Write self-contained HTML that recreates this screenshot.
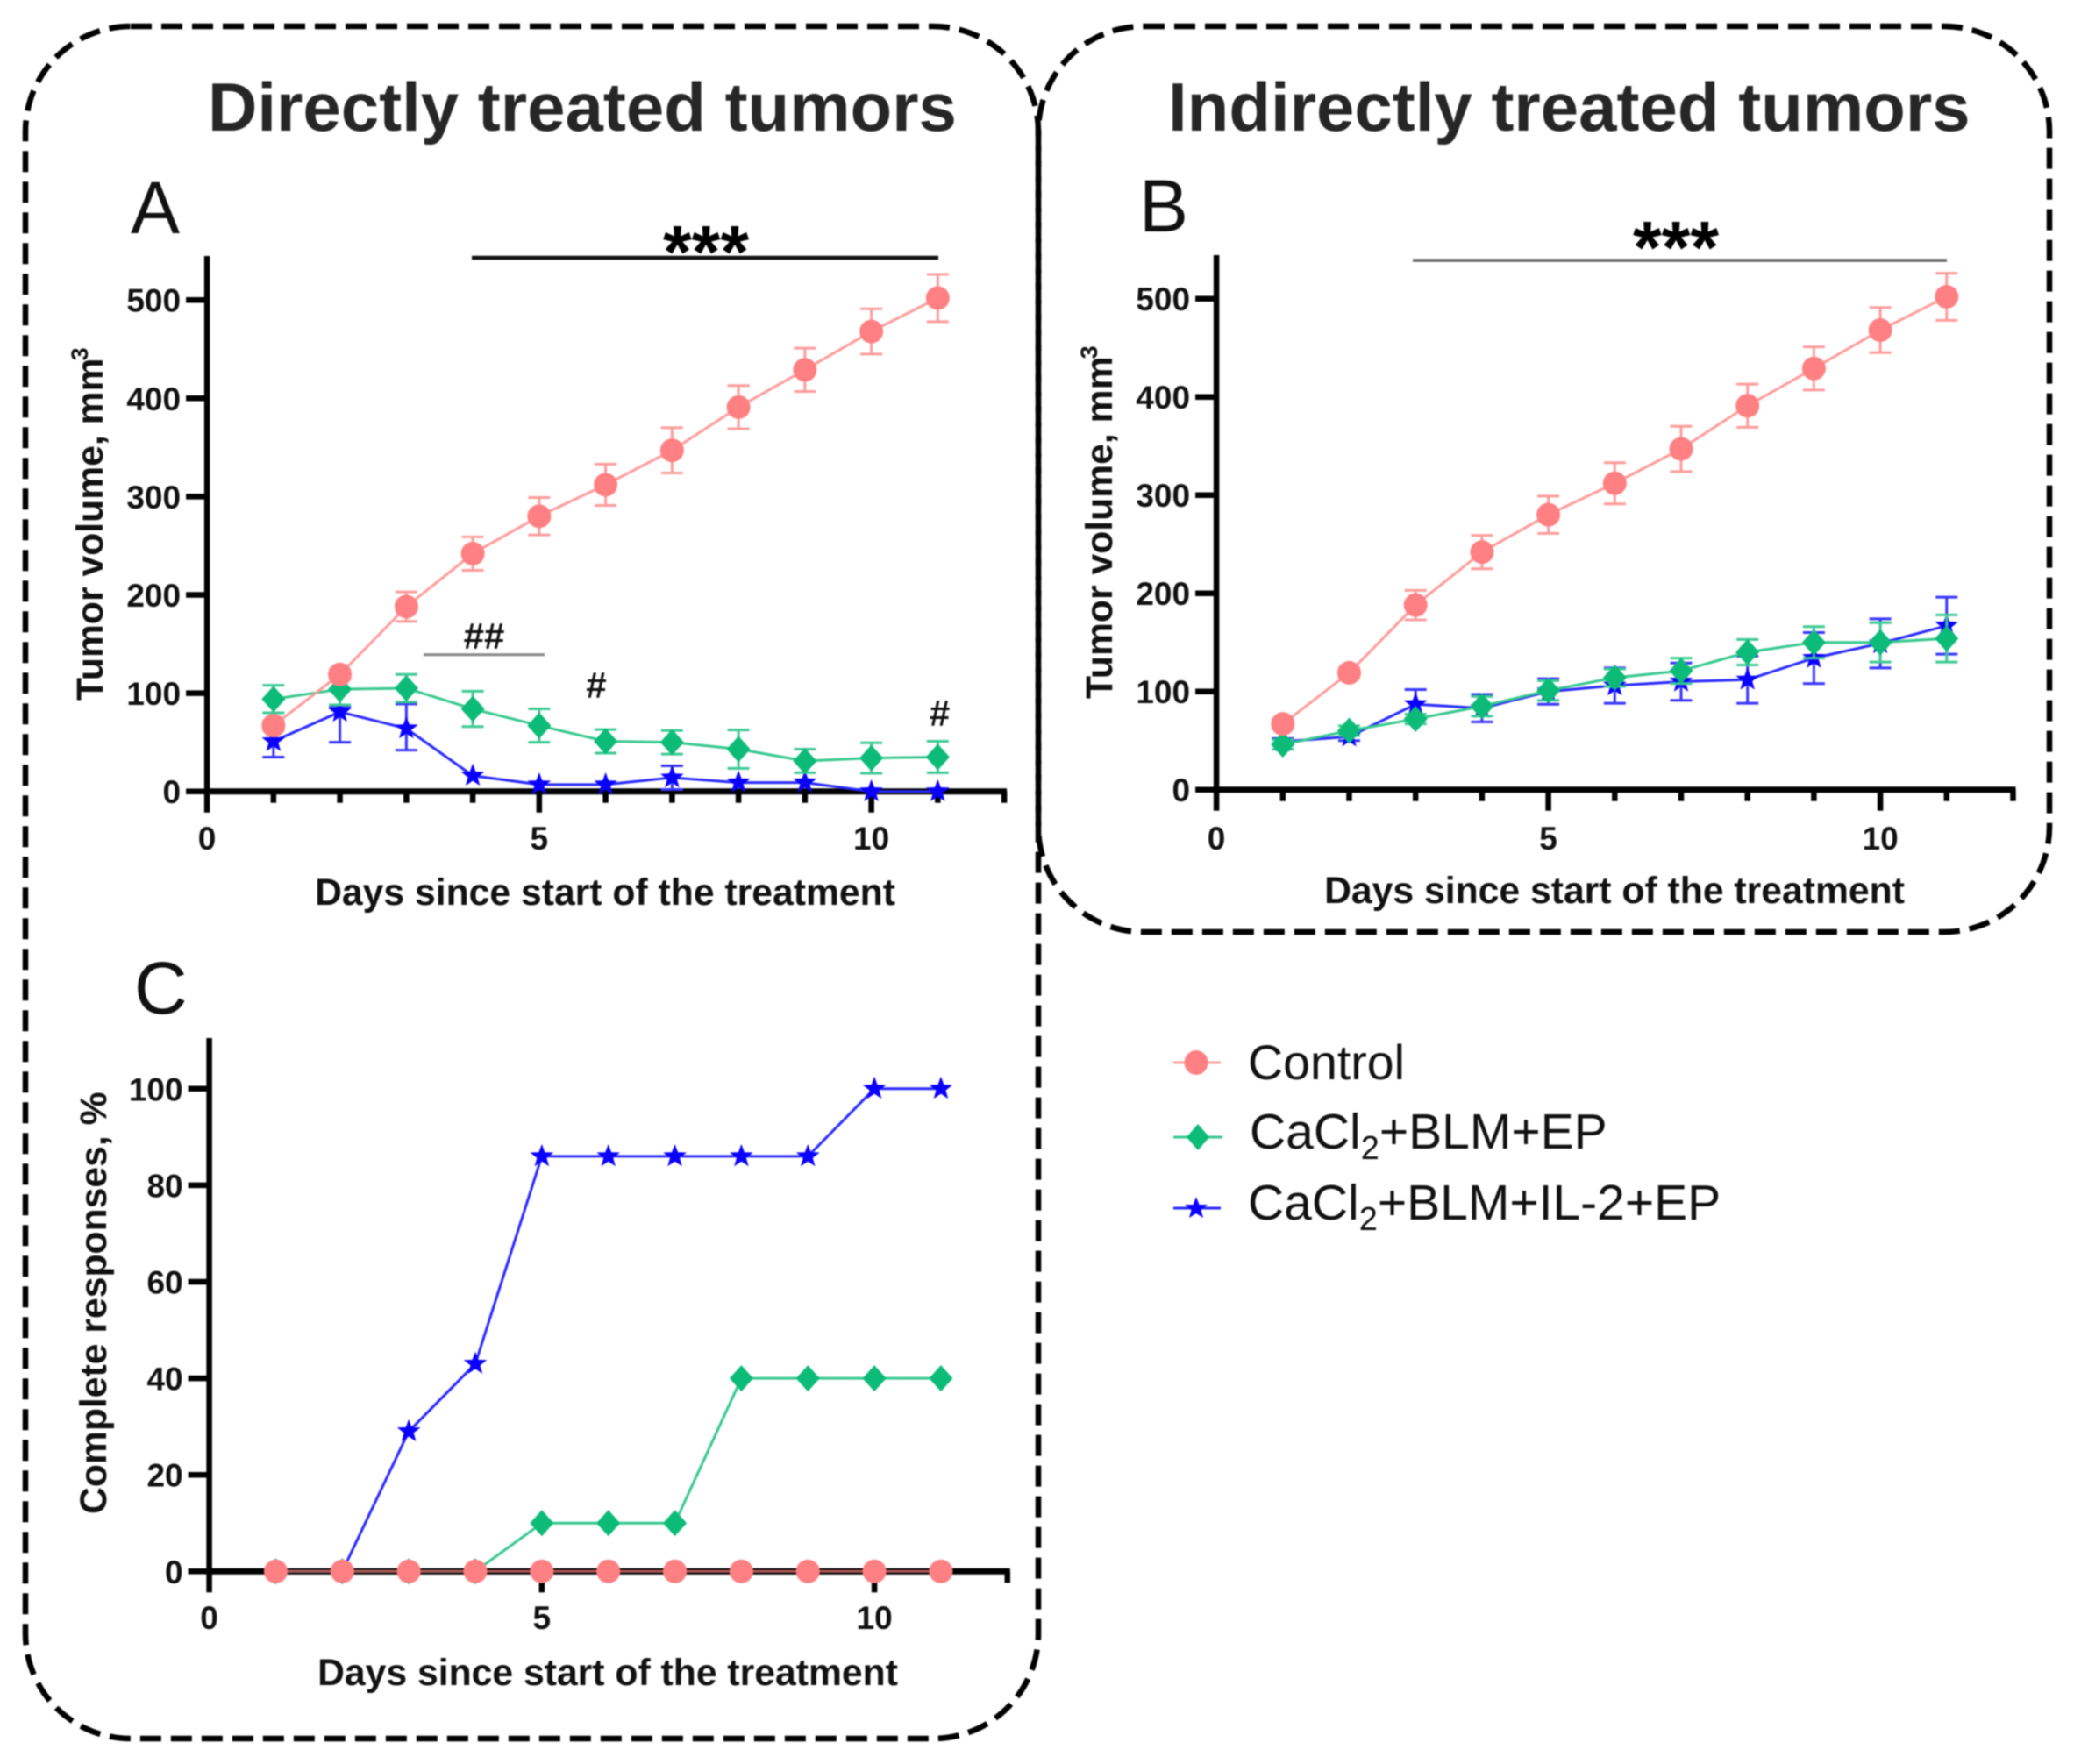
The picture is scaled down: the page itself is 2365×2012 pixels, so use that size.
<!DOCTYPE html>
<html lang="en">
<head>
<meta charset="utf-8">
<title>Tumor response charts</title>
<style>
html,body{margin:0;padding:0;background:#fff;}
body{width:2365px;height:2012px;overflow:hidden;}
svg{display:block;filter:blur(0.9px);font-family:"Liberation Sans",sans-serif;}
</style>
</head>
<body>
<svg id="figure" xmlns="http://www.w3.org/2000/svg" width="2365" height="2012" viewBox="0 0 2365 2012">
  <rect x="0" y="0" width="2365" height="2012" fill="#fff"/>
  <rect x="29" y="30" width="1155" height="1953" rx="120" ry="120" fill="none" stroke="#000" stroke-width="6.5" stroke-dasharray="24 11"/>
  <rect x="1184" y="30" width="1153" height="1033" rx="120" ry="120" fill="none" stroke="#000" stroke-width="6.5" stroke-dasharray="24 11"/>

  <text x="237" y="149" font-size="78" font-weight="700" fill="#262626">Directly treated tumors</text>
  <text x="1332" y="149" font-size="78" font-weight="700" fill="#262626">Indirectly treated tumors</text>

  <text x="149" y="266" font-size="84" fill="#111">A</text>
  <text x="1299" y="264" font-size="84" fill="#111">B</text>
  <text x="153" y="1156" font-size="84" fill="#111">C</text>

  <line x1="538" y1="294" x2="1070" y2="294" stroke="#111" stroke-width="4.5"/>
  <text x="805" y="316" font-size="84" font-weight="700" text-anchor="middle" fill="#000">***</text>
  <line x1="483" y1="746.7" x2="621" y2="746.7" stroke="#888" stroke-width="3"/>
  <text x="552" y="740" font-size="42" font-weight="700" text-anchor="middle" fill="#111">##</text>
  <text x="680" y="796" font-size="42" font-weight="700" text-anchor="middle" fill="#111">#</text>
  <text x="1071.5" y="828" font-size="42" font-weight="700" text-anchor="middle" fill="#111">#</text>
  <line x1="1611" y1="297" x2="2220" y2="297" stroke="#666" stroke-width="3.5"/>
  <text x="1911" y="311" font-size="84" font-weight="700" text-anchor="middle" fill="#000">***</text>

  <g>
    <g>
      <line x1="1338" y1="1212" x2="1392" y2="1212" stroke="#ff9c9c" stroke-width="3"/>
      <ellipse cx="1364" cy="1212" rx="13.5" ry="14" fill="#ff8083"/>
      <text x="1423" y="1231" font-size="55.5" fill="#111">Control</text>
    </g>
    <g>
      <line x1="1338" y1="1297" x2="1394" y2="1297" stroke="#38c88f" stroke-width="3"/>
      <polygon points="1366,1282 1379,1297 1366,1312 1353,1297" fill="#0cbb78"/>
      <text x="1425" y="1310" font-size="57" fill="#111">CaCl<tspan font-size="38" dy="12">2</tspan><tspan dy="-12">+BLM+EP</tspan></text>
    </g>
    <g>
      <line x1="1338" y1="1378" x2="1392" y2="1378" stroke="#2a2aff" stroke-width="3"/>
      <polygon points="1364,1365 1367.5,1374 1377,1374 1369.5,1380 1372,1389 1364,1384 1356,1389 1358.5,1380 1351,1374 1360.5,1374" fill="#0a00ff"/>
      <text x="1423" y="1391" font-size="57" fill="#111">CaCl<tspan font-size="38" dy="12">2</tspan><tspan dy="-12">+BLM+IL-2+EP</tspan></text>
    </g>
  </g>
</svg>

<script>
// ---- shared categories and tick labels ----
const days = [1, 2, 3, 4, 5, 6, 7, 8, 9, 10, 11];
const xTickValues = [0, 1, 2, 3, 4, 5, 6, 7, 8, 9, 10, 11, 12];
const xTickLabels = [0, 5, 10];
const volumeTicks = [0, 100, 200, 300, 400, 500];
const responseTicks = [0, 20, 40, 60, 80, 100];

// ---- panel A: directly treated tumor volume ----
const aControlValues = [67, 119, 188, 242, 280, 312, 347, 391, 429, 468, 502];
const aControlErr = [5, 5, 15, 17, 19, 21, 23, 22, 22, 23, 24];
const aGreenValues = [94, 104, 105, 84, 67, 51, 50, 43, 31, 34, 35];
const aGreenErr = [14, 16, 14, 18, 17, 12, 12, 19.5, 12, 15.5, 16];
const aBlueValues = [51, 81, 64, 16, 7, 7, 14, 9, 9, 0, 0];
const aBlueErrUp = [16, 5, 25, 0, 0, 0, 12, 0, 0, 0, 0];
const aBlueErrDown = [16, 31, 22, 0, 0, 0, 12, 0, 0, 0, 0];

// ---- panel B: indirectly treated tumor volume ----
const bControlValues = [67, 119, 188, 242, 280, 312, 347, 391, 429, 468, 502];
const bControlErr = [5, 5, 15, 17, 19, 21, 23, 22, 22, 23, 24];
const bGreenValues = [46, 60, 72, 85, 101, 114, 121, 140, 150, 150, 154];
const bGreenErr = [5, 5, 5, 10, 10, 9, 13, 13, 16, 20, 24];
const bBlueValues = [49, 54, 87, 83, 100, 106, 110, 112, 134, 149, 167];
const bBlueErr = [3, 4, 15, 14, 13, 18, 19, 24, 26, 25, 29];

// ---- panel C: complete responses ----
const cControlValues = [0, 0, 0, 0, 0, 0, 0, 0, 0, 0, 0];
const cGreenValues = [0, 0, 0, 0, 10, 10, 10, 40, 40, 40, 40];
const cBlueValues = [0, 0, 29, 43, 86, 86, 86, 86, 86, 100, 100];

const NS = 'http://www.w3.org/2000/svg';
const root = document.getElementById('figure');

function make(tag, attrs, parent) {
  const el = document.createElementNS(NS, tag);
  for (const k in attrs) el.setAttribute(k, attrs[k]);
  parent.appendChild(el);
  return el;
}

function xScale(panel, d) { return panel.x0 + panel.dayPx * d; }
function yScale(panel, v) { return panel.y0 - panel.unitPx * v; }

function drawAxes(panel, yTicks) {
  const g = make('g', {}, root);
  
  
  const black = '#000';

  const yAxis = make('line', { x1: panel.x0, y1: panel.top, x2: panel.x0, y2: panel.y0 + 3, stroke: black, 'stroke-width': 6.5 }, g);
  
  

  const xAxis = make('line', { x1: panel.x0 - 3, y1: panel.y0, x2: xScale(panel, 12) + 3, y2: panel.y0, stroke: black, 'stroke-width': 7 }, g);
  
  

  xTickValues.forEach(function (t) {
    const len = (xTickLabels.indexOf(t) >= 0) ? 24 : 13;
    const x = xScale(panel, t);
    const tick = make('line', { x1: x, y1: panel.y0, x2: x, y2: panel.y0 + len, stroke: black, 'stroke-width': 6.5 }, g);
    
    
  });
  xTickLabels.forEach(function (t) {
    const lab = make('text', { x: xScale(panel, t), y: panel.xLabelY, 'font-size': 37, 'font-weight': 700, 'text-anchor': 'middle', fill: '#111' }, g);
    lab.textContent = String(t);
    
    
  });
  yTicks.forEach(function (t) {
    const y = yScale(panel, t);
    const tick = make('line', { x1: panel.x0 - 24, y1: y, x2: panel.x0, y2: y, stroke: black, 'stroke-width': 6.5 }, g);
    
    
    const lab = make('text', { x: panel.x0 - 30, y: y + 13.5, 'font-size': 37, 'font-weight': 700, 'text-anchor': 'end', fill: '#111' }, g);
    lab.textContent = String(t);
    
    
  });

  const xt = make('text', { x: panel.xTitleX, y: panel.xTitleY, 'font-size': 42.7, 'font-weight': 700, 'text-anchor': 'middle', fill: '#111' }, g);
  xt.textContent = 'Days since start of the treatment';
  
  

  const yt = make('text', { transform: 'translate(' + panel.yTitleX + ',' + panel.yTitleY + ') rotate(-90)', 'font-size': 42.7, 'font-weight': 700, fill: '#111' }, g);
  
  
  const main = make('tspan', {}, yt);
  main.textContent = panel.yTitle;
  if (panel.yTitleSup) {
    const sup = make('tspan', { 'font-size': 27, dy: -17, dx: -3 }, yt);
    sup.textContent = panel.yTitleSup;
  }
}

function drawMarker(kind, x, y, color, g) {
  if (kind === 'circle') {
    return make('circle', { cx: x, cy: y, r: 13.5, fill: color }, g);
  }
  if (kind === 'diamond') {
    const pts = [[x, y - 15], [x + 13.5, y], [x, y + 15], [x - 13.5, y]].map(function (p) { return p.join(','); }).join(' ');
    return make('polygon', { points: pts, fill: color }, g);
  }
  const star = [];
  for (let i = 0; i < 10; i++) {
    const r = i % 2 === 0 ? 14 : 5.8;
    const a = -Math.PI / 2 + i * Math.PI / 5;
    star.push((x + r * Math.cos(a)).toFixed(1) + ',' + (y + r * Math.sin(a)).toFixed(1));
  }
  return make('polygon', { points: star.join(' '), fill: color }, g);
}

function drawSeries(panel, name, kind, color, lineColor, errColor, values, errUp, errDown) {
  const g = make('g', {}, root);
  
  

  if (errUp) {
    days.forEach(function (d, i) {
      const up = errUp[i];
      const down = errDown[i];
      if (up === 0 && down === 0) return;
      const x = xScale(panel, d);
      const y1 = yScale(panel, values[i] + up);
      const y2 = yScale(panel, Math.max(values[i] - down, panel.errFloor));
      const bar = make('path', {
        d: 'M' + (x - 12.5) + ' ' + y1 + 'H' + (x + 12.5) + 'M' + x + ' ' + y1 + 'V' + y2 + 'M' + (x - 12.5) + ' ' + y2 + 'H' + (x + 12.5),
        fill: 'none', stroke: errColor, 'stroke-width': 3
      }, g);
      
      
    });
  }

  const pts = days.map(function (d, i) { return xScale(panel, d) + ',' + yScale(panel, values[i]); }).join(' ');
  const line = make('polyline', { points: pts, fill: 'none', stroke: lineColor, 'stroke-width': 3 }, g);
  
  

  days.forEach(function (d, i) {
    const m = drawMarker(kind, xScale(panel, d), yScale(panel, values[i]), color, g);
    
    
  });
}

const RED = '#ff8083', RED_LINE = '#ff9c9c', RED_ERR = '#ff9c9c';
const GREEN = '#0cbb78', GREEN_LINE = '#38c88f', GREEN_ERR = '#3fca94';
const BLUE = '#0a00ff', BLUE_LINE = '#2a2aff', BLUE_ERR = '#3a36ff';

const panelA = { id: 'panel-a', x0: 236.1, y0: 902.7, top: 292, dayPx: 75.75, unitPx: 1.121, xLabelY: 969, xTitleX: 690, xTitleY: 1032, yTitleX: 117, yTitleY: 799, yTitle: 'Tumor volume, mm', yTitleSup: '3', errFloor: 0 };
const panelB = { id: 'panel-b', x0: 1387.1, y0: 900.7, top: 291, dayPx: 75.7, unitPx: 1.12, xLabelY: 969, xTitleX: 1841, xTitleY: 1030, yTitleX: 1268, yTitleY: 797, yTitle: 'Tumor volume, mm', yTitleSup: '3', errFloor: 0 };
const panelC = { id: 'panel-c', x0: 238.6, y0: 1792.3, top: 1184, dayPx: 75.85, unitPx: 5.505, xLabelY: 1858, xTitleX: 693, xTitleY: 1922, yTitleX: 121, yTitleY: 1727, yTitle: 'Complete responses, %', yTitleSup: '', errFloor: 0 };

drawAxes(panelA, volumeTicks);
drawSeries(panelA, 'cacl2-blm-il2-ep', 'star', BLUE, BLUE_LINE, BLUE_ERR, aBlueValues, aBlueErrUp, aBlueErrDown);
drawSeries(panelA, 'cacl2-blm-ep', 'diamond', GREEN, GREEN_LINE, GREEN_ERR, aGreenValues, aGreenErr, aGreenErr);
drawSeries(panelA, 'control', 'circle', RED, RED_LINE, RED_ERR, aControlValues, aControlErr, aControlErr);

drawAxes(panelB, volumeTicks);
drawSeries(panelB, 'cacl2-blm-il2-ep', 'star', BLUE, BLUE_LINE, BLUE_ERR, bBlueValues, bBlueErr, bBlueErr);
drawSeries(panelB, 'cacl2-blm-ep', 'diamond', GREEN, GREEN_LINE, GREEN_ERR, bGreenValues, bGreenErr, bGreenErr);
drawSeries(panelB, 'control', 'circle', RED, RED_LINE, RED_ERR, bControlValues, bControlErr, bControlErr);

drawAxes(panelC, responseTicks);
drawSeries(panelC, 'cacl2-blm-il2-ep', 'star', BLUE, BLUE_LINE, BLUE_ERR, cBlueValues, null, null);
drawSeries(panelC, 'cacl2-blm-ep', 'diamond', GREEN, GREEN_LINE, GREEN_ERR, cGreenValues, null, null);
drawSeries(panelC, 'control', 'circle', RED, '#b05a5a', RED_ERR, cControlValues, null, null);
</script>
</body>
</html>
